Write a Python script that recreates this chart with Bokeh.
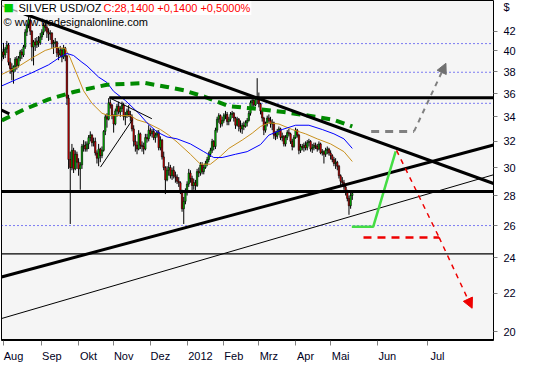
from bokeh.plotting import figure
from bokeh.models import (LinearAxis, FixedTicker, PrintfTickFormatter, Span, Label,
                          Arrow, NormalHead, Range1d, ColumnDataSource)
from bokeh.embed import file_html
from bokeh.resources import INLINE

# ---------------- data (daily bars, index 0 = 29 Jul 2011) ----------------
opens = [
    39.4, 39.9, 39.6, 40.2, 40.6, 38.9, 38.3, 38.0, 38.5, 39.2,
    38.6, 39.3, 39.9, 39.6, 40.4, 41.9, 42.6, 43.2, 42.0, 40.4,
    40.9, 40.6, 41.0, 40.8, 41.4, 41.9, 42.6, 42.4, 41.9, 41.7,
    41.8, 40.7, 40.8, 40.9, 39.8, 39.6, 40.1, 39.4, 40.3, 39.5,
    35.6, 30.6, 30.0, 31.3, 29.9, 31.0, 30.4, 29.9, 30.2, 31.6,
    31.7, 31.4, 31.8, 32.3, 32.5, 31.9, 32.0, 31.1, 30.7, 31.4,
    30.9, 31.3, 32.8, 34.0, 33.8, 35.2, 35.0, 34.1, 33.4, 34.5,
    34.9, 34.4, 34.7, 35.0, 34.0, 34.1, 34.5, 34.2, 34.0, 33.0,
    32.0, 31.7, 31.4, 32.6, 31.7, 31.6, 31.4, 32.3, 32.2, 32.9,
    32.6, 32.8, 32.3, 32.5, 32.7, 31.5, 32.1, 30.8, 30.0, 29.1,
    29.8, 30.0, 29.4, 29.8, 29.4, 29.3, 29.0, 28.9, 28.3, 27.1,
    27.6, 28.2, 28.8, 29.6, 29.2, 28.7, 28.9, 28.7, 29.7, 29.6,
    30.2, 29.7, 30.0, 30.3, 30.6, 31.0, 31.3, 32.0, 31.6, 32.9,
    33.8, 34.1, 33.4, 33.7, 34.1, 34.2, 33.6, 33.8, 34.2, 34.3,
    33.9, 33.3, 33.8, 33.2, 33.0, 33.3, 33.2, 33.5, 33.7, 34.3,
    35.2, 35.4, 35.0, 35.5, 35.7, 35.1, 34.5, 33.9, 32.9, 33.4,
    33.9, 33.7, 33.4, 33.5, 32.5, 32.4, 32.8, 33.0, 32.3, 32.4,
    31.8, 32.3, 32.7, 32.6, 32.0, 31.6, 32.3, 32.9, 32.5, 31.3,
    31.6, 31.5, 31.7, 31.5, 31.9, 32.0, 31.4, 31.5, 31.7, 31.6,
    31.4, 31.8, 31.1, 31.2, 31.0, 31.3, 31.4, 31.1, 30.9, 30.6,
    30.3, 30.4, 30.1, 29.4, 29.0, 28.9, 28.6, 28.3, 27.8, 27.3, 28.0,
]
highs = [
    40.2, 40.8, 40.4, 41.0, 40.8, 39.3, 38.8, 38.6, 39.4, 39.5,
    39.5, 40.1, 40.2, 40.6, 42.2, 42.8, 43.9, 43.4, 42.1, 41.1,
    41.3, 41.4, 41.5, 41.8, 42.2, 42.9, 43.0, 43.2, 42.3, 42.1,
    41.9, 41.1, 41.3, 41.0, 40.3, 40.5, 40.3, 40.6, 40.4, 39.6,
    35.9, 31.2, 31.8, 31.5, 31.3, 31.2, 30.7, 30.4, 31.8, 32.1,
    32.0, 32.0, 32.5, 32.8, 32.6, 32.3, 32.3, 31.3, 31.8, 31.5,
    31.6, 32.9, 34.2, 34.3, 35.6, 35.5, 35.1, 34.2, 34.7, 35.1,
    35.3, 34.9, 35.3, 35.2, 34.4, 34.7, 35.0, 34.5, 34.2, 33.3,
    32.5, 32.0, 32.9, 32.7, 32.0, 31.9, 32.6, 32.6, 33.3, 33.1,
    33.0, 33.0, 32.7, 32.9, 32.9, 32.4, 32.2, 31.2, 30.1, 30.1,
    30.4, 30.2, 30.0, 30.1, 29.7, 29.5, 29.3, 29.0, 28.4, 27.9,
    28.5, 29.0, 29.9, 29.8, 29.4, 29.2, 29.1, 29.9, 30.0, 30.4,
    30.4, 30.2, 30.5, 30.8, 31.2, 31.5, 32.2, 32.1, 33.1, 34.0,
    34.3, 34.2, 34.0, 34.3, 34.5, 34.4, 34.0, 34.4, 34.5, 34.4,
    34.0, 34.0, 33.9, 33.7, 33.5, 33.6, 33.7, 33.9, 34.5, 35.4,
    35.6, 35.6, 35.6, 37.4, 36.1, 35.2, 34.6, 34.0, 33.6, 34.1,
    34.2, 34.0, 33.8, 33.6, 32.8, 33.0, 33.2, 33.1, 32.7, 32.5,
    32.5, 32.9, 33.0, 32.7, 32.2, 32.5, 33.1, 33.0, 32.6, 31.8,
    31.8, 31.9, 32.0, 32.1, 32.2, 32.1, 31.8, 31.9, 31.9, 31.8,
    32.0, 31.9, 31.4, 31.3, 31.5, 31.6, 31.5, 31.3, 31.0, 30.8,
    30.7, 30.5, 30.2, 29.5, 29.3, 29.1, 28.7, 28.4, 28.0, 28.2, 28.3,
]
lows = [
    39.0, 39.2, 39.3, 39.8, 38.6, 37.8, 37.2, 36.9, 38.0, 38.2,
    38.4, 39.0, 39.2, 39.4, 40.2, 41.5, 42.3, 41.6, 39.0, 38.6,
    40.0, 40.3, 40.4, 40.6, 41.1, 41.6, 42.0, 41.3, 41.0, 41.1,
    40.3, 39.7, 40.3, 39.4, 39.1, 39.4, 38.9, 39.2, 39.0, 35.0,
    29.9, 26.1, 29.8, 29.6, 29.8, 29.9, 29.4, 28.4, 29.9, 31.2,
    31.2, 31.2, 31.4, 32.0, 31.6, 31.6, 30.9, 30.3, 30.1, 30.4,
    30.7, 31.2, 32.5, 33.1, 33.7, 34.7, 33.8, 32.7, 33.3, 34.0,
    34.2, 34.0, 34.4, 33.7, 33.3, 33.9, 34.0, 33.6, 32.8, 31.6,
    31.2, 31.0, 31.3, 31.4, 31.2, 31.0, 31.3, 31.9, 32.0, 32.4,
    32.3, 32.1, 31.9, 32.3, 31.3, 31.3, 30.6, 29.8, 28.1, 29.0,
    29.4, 29.2, 29.1, 29.2, 28.9, 28.8, 28.6, 28.1, 26.9, 26.1,
    27.4, 28.0, 28.6, 28.9, 28.3, 28.4, 28.3, 28.6, 29.3, 29.4,
    29.5, 29.5, 29.9, 30.1, 30.4, 30.8, 31.1, 31.3, 31.4, 32.7,
    33.5, 33.1, 33.2, 33.5, 33.8, 33.3, 33.3, 33.6, 33.9, 33.6,
    33.0, 33.2, 32.8, 32.7, 32.6, 32.9, 33.1, 33.2, 33.6, 34.1,
    34.8, 34.6, 34.9, 35.1, 34.8, 34.2, 33.6, 32.5, 32.7, 33.2,
    33.5, 33.1, 32.9, 32.2, 32.1, 32.2, 32.5, 32.1, 32.0, 31.6,
    31.6, 32.1, 32.4, 31.8, 31.3, 31.5, 32.2, 32.3, 31.0, 31.1,
    31.3, 31.2, 31.3, 31.3, 31.6, 31.2, 31.1, 31.3, 31.4, 31.2,
    31.3, 31.0, 30.9, 30.3, 30.8, 31.0, 30.9, 30.6, 30.4, 30.1,
    29.9, 29.8, 29.2, 28.6, 28.7, 28.4, 28.0, 27.6, 26.7, 27.1, 27.7,
]
closes = [
    39.9, 39.6, 40.2, 40.6, 38.9, 38.3, 38.0, 38.5, 39.2, 38.6,
    39.3, 39.9, 39.6, 40.4, 41.9, 42.6, 43.2, 42.0, 40.4, 40.9,
    40.6, 41.0, 40.8, 41.4, 41.9, 42.6, 42.4, 41.9, 41.7, 41.8,
    40.7, 40.8, 40.9, 39.8, 39.6, 40.1, 39.4, 40.3, 39.5, 35.6,
    30.6, 30.0, 31.3, 29.9, 31.0, 30.4, 29.9, 30.2, 31.6, 31.7,
    31.4, 31.8, 32.3, 32.5, 31.9, 32.0, 31.1, 30.7, 31.4, 30.9,
    31.3, 32.8, 34.0, 33.8, 35.2, 35.0, 34.1, 33.4, 34.5, 34.9,
    34.4, 34.7, 35.0, 34.0, 34.1, 34.5, 34.2, 34.0, 33.0, 32.0,
    31.7, 31.4, 32.6, 31.7, 31.6, 31.4, 32.3, 32.2, 32.9, 32.6,
    32.8, 32.3, 32.5, 32.7, 31.5, 32.1, 30.8, 30.0, 29.1, 29.8,
    30.0, 29.4, 29.8, 29.4, 29.3, 29.0, 28.9, 28.3, 27.1, 27.6,
    28.2, 28.8, 29.6, 29.2, 28.7, 28.9, 28.7, 29.7, 29.6, 30.2,
    29.7, 30.0, 30.3, 30.6, 31.0, 31.3, 32.0, 31.6, 32.9, 33.8,
    34.1, 33.4, 33.7, 34.1, 34.2, 33.6, 33.8, 34.2, 34.3, 33.9,
    33.3, 33.8, 33.2, 33.0, 33.3, 33.2, 33.5, 33.7, 34.3, 35.2,
    35.4, 35.0, 35.5, 35.7, 35.1, 34.5, 33.9, 32.9, 33.4, 33.9,
    33.7, 33.4, 33.5, 32.5, 32.4, 32.8, 33.0, 32.3, 32.4, 31.8,
    32.3, 32.7, 32.6, 32.0, 31.6, 32.3, 32.9, 32.5, 31.3, 31.6,
    31.5, 31.7, 31.5, 31.9, 32.0, 31.4, 31.5, 31.7, 31.6, 31.4,
    31.8, 31.1, 31.2, 31.0, 31.3, 31.4, 31.1, 30.9, 30.6, 30.3,
    30.4, 30.1, 29.4, 29.0, 28.9, 28.6, 28.3, 27.8, 27.3, 28.0, 28.14,
]

# moving averages (bar index, price)
ma_fast_x = [0, 10, 18, 26, 32, 38, 41, 45, 49, 54, 60, 64, 71, 77, 81, 87, 95, 100, 105,
             113, 119, 125, 131, 136, 144, 150, 155, 160, 166, 174, 182, 189, 197, 205, 210]
ma_fast_y = [37.75, 38.5, 39.3, 40.05, 40.35, 40.25, 39.3, 37.75, 36.25, 35.15, 34.3, 34.1,
             34.1, 34.1, 33.75, 33.5, 32.95, 32.5, 31.95, 31.0, 30.25, 30.25, 30.85, 31.45,
             32.1, 32.65, 33.2, 33.5, 33.4, 32.95, 32.6, 32.2, 31.8, 31.2, 30.45]
ma_slow_x = [0, 9, 18, 28, 35, 39, 43, 48, 51, 58, 63, 67, 74, 82, 87, 93, 99, 105, 113,
             121, 127, 132, 140, 147, 155, 160, 168, 176, 184, 192, 199, 205, 210]
ma_slow_y = [36.7, 37.3, 37.9, 38.65, 39.4, 39.75, 39.55, 38.9, 38.55, 37.5, 37.0, 36.2,
             35.4, 34.3, 33.5, 32.75, 32.35, 32.2, 31.8, 31.2, 30.75, 30.75, 31.0, 31.2,
             31.75, 32.5, 32.95, 33.3, 33.3, 32.95, 32.6, 32.2, 31.45]

# green dashed cycle arc
arc_x = [0, 13, 28, 43, 63, 86, 99, 109, 122, 136, 151, 169, 184, 199, 210]
arc_y = [33.7, 34.6, 35.5, 36.15, 36.8, 36.95, 36.6, 36.3, 35.7, 34.9, 34.7, 34.4, 34.1, 33.75, 33.2]

# trend lines (bar index, price)
down_x, down_y = [13.2, 294.6], [43.84, 28.84]
down_ext_x, down_ext_y = [-0.2, 13.2], [44.73, 43.84]
up_thick_x, up_thick_y = [-0.2, 294.6], [22.90, 31.72]
up_thin_x, up_thin_y = [-0.2, 294.6], [20.67, 29.47]
res_x, res_y = [64.4, 294.6], [35.64, 35.64]
left_seg_x, left_seg_y = [-0.2, 4.5], [34.56, 34.24]
wedge_a_x, wedge_a_y = [64.4, 89.9], [35.64, 33.84]
wedge_b_x, wedge_b_y = [59.1, 78.3], [30.03, 33.76]
support_level = 28.28
low_level = 24.25
dotted_levels = [40.73, 37.95, 35.15, 26.0]

# projections
grey_x, grey_y = [221.3, 247.0, 266.1], [32.8, 32.8, 38.8]
green_x, green_y = [209.7, 222.5, 236.0], [25.92, 25.92, 31.22]
red_x, red_y = [236.5, 262.0, 281.8], [31.3, 25.25, 21.2]
red_h_x, red_h_y = [216.7, 262.0], [25.25, 25.25]

month_ticks = [1, 24, 46, 67, 89, 111, 133, 154, 176, 197, 225, 255]
month_labels = ["Aug", "Sep", "Okt", "Nov", "Dez", "2012", "Feb", "Mrz", "Apr", "Mai", "Jun", "Jul"]
price_ticks = [20, 22, 24, 26, 28, 30, 32, 34, 36, 38, 40, 42]
currency_pos = 44.6

X0, X1 = -0.2, 294.6
Y0, Y1 = 19.58, 45.3
FONT = "Liberation Sans"

p = figure(width=518, height=364, y_axis_type="log",
           x_range=Range1d(X0, X1), y_range=Range1d(Y0, Y1),
           x_axis_location=None, y_axis_location="right",
           output_backend="svg", toolbar_location=None,
           min_border_left=1, min_border_top=0, min_border_right=0, min_border_bottom=0)
p.background_fill_color = "#f5f5f5"
p.border_fill_color = "white"
p.outline_line_color = "black"
p.outline_line_width = 1
p.grid.visible = False

# right price axis: labels are major ticks (no mark), tick marks are minor ticks
ya = p.yaxis[0]
ya.ticker = FixedTicker(ticks=price_ticks + [currency_pos], minor_ticks=price_ticks)
ya.formatter = PrintfTickFormatter(format="%d")
ya.major_label_overrides = {currency_pos: "$"}
ya.major_tick_out = 0
ya.major_tick_in = 0
ya.minor_tick_out = 4
ya.minor_tick_in = 0
ya.axis_line_color = None
ya.minor_tick_line_color = "#808080"
ya.major_label_text_font = FONT
ya.major_label_text_font_size = "11px"
ya.major_label_text_color = "#000022"
ya.major_label_standoff = 6

# bottom month axis: labels left-aligned after the tick marks (minor ticks)
px_per_idx = 486.0 / (X1 - X0)
label_pos = [int(round(t + (1 + 3.1 * len(s)) / px_per_idx)) for t, s in zip(month_ticks, month_labels)]
ax = LinearAxis(ticker=FixedTicker(ticks=label_pos, minor_ticks=month_ticks),
                major_label_overrides={k: s for k, s in zip(label_pos, month_labels)},
                major_tick_out=0, major_tick_in=0, minor_tick_out=5, minor_tick_in=0,
                minor_tick_line_color="#808080",
                axis_line_color=None, major_label_standoff=4,
                major_label_text_font=FONT, major_label_text_font_size="11px",
                major_label_text_color="#000022")
p.add_layout(ax, "below")

# reference levels
for lv in dotted_levels:
    p.add_layout(Span(location=lv, dimension="width", line_color="#0000ee",
                      line_width=1, line_dash="1 3", level="underlay"))

# candles
idx = list(range(len(closes)))
src = ColumnDataSource(dict(
    x=idx, h=highs, l=lows,
    top=[max(o, c) for o, c in zip(opens, closes)],
    bottom=[min(o, c) for o, c in zip(opens, closes)],
    color=["#00dd00" if c >= o else "#ee0000" for o, c in zip(opens, closes)],
))
p.segment(x0="x", y0="h", x1="x", y1="l", source=src, line_color="black", line_width=1)
p.vbar(x="x", width=0.85, top="top", bottom="bottom", fill_color="color",
       line_color="black", line_width=0.6, source=src)

# moving averages & arc
p.line(ma_fast_x, ma_fast_y, line_color="#c8901e", line_width=1)
p.line(ma_slow_x, ma_slow_y, line_color="#0000ff", line_width=1)
p.line(arc_x, arc_y, line_color="#008a00", line_width=4, line_dash="9 6")

# trend lines
p.line(down_ext_x, down_ext_y, line_color="#a0a0a0", line_width=1.5)
p.line(down_x, down_y, line_color="black", line_width=3)
p.line(up_thick_x, up_thick_y, line_color="black", line_width=3)
p.line(up_thin_x, up_thin_y, line_color="black", line_width=1)
p.line(res_x, res_y, line_color="black", line_width=3)
p.line(left_seg_x, left_seg_y, line_color="black", line_width=3)
p.line(wedge_a_x, wedge_a_y, line_color="black", line_width=1)
p.line(wedge_b_x, wedge_b_y, line_color="black", line_width=1)
p.add_layout(Span(location=support_level, dimension="width", line_color="black", line_width=3))
p.add_layout(Span(location=low_level, dimension="width", line_color="black", line_width=1.2))
p.add_layout(Span(location=Y0, dimension="width", line_color="black", line_width=3))

# projections
p.line(green_x, green_y, line_color="#44dd44", line_width=2.5)
p.line(grey_x[:2], grey_y[:2], line_color="#808080", line_width=3, line_dash="8 6")
p.add_layout(Arrow(end=NormalHead(size=10, fill_color="#707070", line_color="#707070"),
                   x_start=grey_x[1], y_start=grey_y[1], x_end=grey_x[2], y_end=grey_y[2],
                   line_color="#808080", line_width=2, line_dash="5 5"))
p.line(red_h_x, red_h_y, line_color="#ee0000", line_width=2.5, line_dash="8 6")
p.line(red_x[:2], red_y[:2], line_color="#ee0000", line_width=1.5, line_dash="5 5")
p.add_layout(Arrow(end=NormalHead(size=10, fill_color="#ee0000", line_color="#ee0000"),
                   x_start=red_x[1], y_start=red_y[1], x_end=red_x[2], y_end=red_y[2],
                   line_color="#ee0000", line_width=1.5, line_dash="5 5"))

# header texts
p.add_layout(Label(x=2, y=45.25, x_units="screen", text="\u25a0", text_font="DejaVu Sans",
                   text_font_size="11px", text_color="#00cc00", text_baseline="top"))
p.add_layout(Label(x=16, y=45.25, x_units="screen", text="SILVER USD/OZ", text_font=FONT,
                   text_font_size="11px", text_color="black", text_baseline="top",
                   background_fill_color="white", padding=1))
p.add_layout(Label(x=101, y=45.25, x_units="screen", text="C:28,1400 +0,1400 +0,5000%",
                   text_font=FONT, text_font_size="11px", text_color="#ff0000",
                   text_baseline="top", background_fill_color="white", padding=1))
p.add_layout(Label(x=2, y=43.55, x_units="screen", text="\u00a9 www.tradesignalonline.com",
                   text_font=FONT, text_font_size="11px", text_color="black",
                   text_baseline="top"))

open("out.html", "w").write(file_html(p, INLINE))
